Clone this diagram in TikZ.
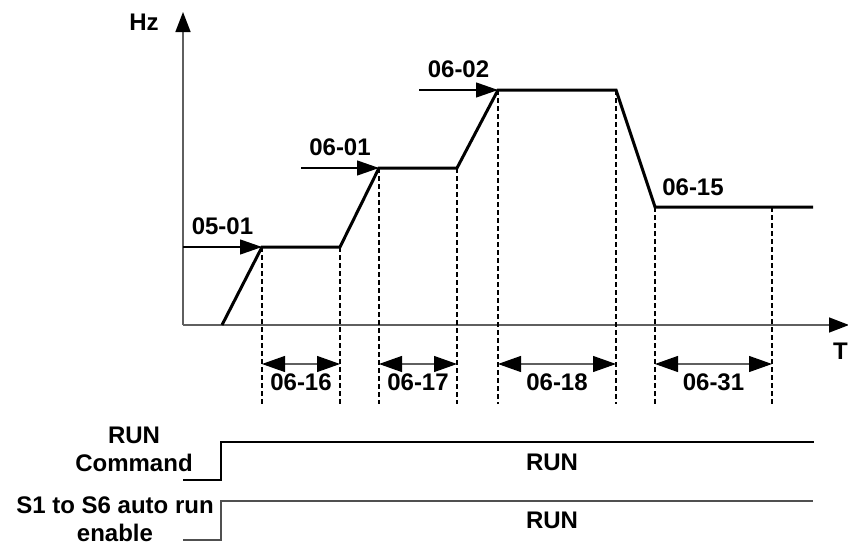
\documentclass[tikz,border=0pt]{standalone}
\usepackage{fontspec}
\setmainfont{Liberation Sans}
\usepackage{tikz}
\usetikzlibrary{arrows.meta,positioning}
\definecolor{AxisGray}{RGB}{95,95,95}
\definecolor{SignalGray}{RGB}{80,80,80}

\begin{document}
\begin{tikzpicture}[x=1pt, y=-1pt,
    every node/.style={font=\fontsize{24}{28}\selectfont\bfseries, inner sep=0pt},
    axis/.style={AxisGray, line width=1.5pt, -{Triangle[length=20pt, width=15pt, black]}},
    curve/.style={line width=3pt, line join=miter},
    guide/.style={line width=1.2pt, dash pattern=on 5pt off 3pt},
    pointer/.style={line width=1.2pt, -{Triangle[length=22pt, width=15pt]}},
    span/.style={AxisGray, line width=1.2pt, {Triangle[length=23pt, width=16pt, black]}-{Triangle[length=23pt, width=16pt, black]}},
    signal/.style={line width=1.5pt}
]
    \useasboundingbox (0,0) rectangle (848,546);

    % axes
    \coordinate (o) at (183,325);
    \coordinate (ytop) at (183,12);
    \coordinate (xend) at (849,325);
    \draw[axis] (o) -- (ytop);
    \draw[axis] (o) -- (xend);
    \node (hz) at (144,22) {Hz};
    \node[anchor=east] (t) at (848,351) {T};

    % frequency profile
    \coordinate (p0) at (222,325);
    \coordinate (p1) at (262,247);
    \coordinate (p2) at (340,247);
    \coordinate (p3) at (379,168);
    \coordinate (p4) at (457,168);
    \coordinate (p5) at (498,90);
    \coordinate (p6) at (616,90);
    \coordinate (p7) at (655,207);
    \coordinate (p8) at (813,207);
    \coordinate (p9) at (772,207);
    \draw[curve] (p0) -- (p1) -- (p2) -- (p3) -- (p4) -- (p5) -- (p6) -- (p7) -- (p8);

    % speed references
    \coordinate (s1) at (301,168);
    \coordinate (s2) at (419,90);
    \draw[pointer] (o |- p1) -- node[above=12pt] (l0501) {05-01} (p1);
    \draw[pointer] (s1) -- node[above=12pt] (l0601) {06-01} (p3);
    \draw[pointer] (s2) -- node[above=12pt] (l0602) {06-02} (p5);
    \node (l0615) at (693,187) {06-15};

    % time marks
    \coordinate (base) at (0,404);
    \coordinate (dim) at (0,364);
    \foreach \p in {p1,p2,p3,p4,p5,p6,p7,p9}
        \draw[guide] (\p) -- (\p |- base);
    \draw[span] (p1 |- dim) -- node[below=9pt, black] (l0616) {06-16} (p2 |- dim);
    \draw[span] (p3 |- dim) -- node[below=9pt, black] (l0617) {06-17} (p4 |- dim);
    \draw[span] (p5 |- dim) -- node[below=9pt, black] (l0618) {06-18} (p6 |- dim);
    \draw[span] (p7 |- dim) -- node[below=9pt, black] (l0631) {06-31} (p9 |- dim);

    % run signals
    \coordinate (c0) at (183,480);
    \coordinate (c1) at (221,480);
    \coordinate (c2) at (221,442);
    \coordinate (c3) at (814,442);
    \draw[signal] (c0) -- (c1) -- (c2) -- (c3);
    \node (runcmd) at (552,462) {RUN};
    \node[align=center] (cmd) at (134,449) {RUN\\Command};

    \coordinate (e0) at (183,540);
    \coordinate (e1) at (221,540);
    \coordinate (e2) at (221,501);
    \coordinate (e3) at (813,501);
    \draw[signal, SignalGray] (e0) -- (e1) -- (e2) -- (e3);
    \node (runauto) at (552,520) {RUN};
    \node[align=center] (auto) at (115,519) {S1 to S6 auto run\\enable};
\end{tikzpicture}
\end{document}
